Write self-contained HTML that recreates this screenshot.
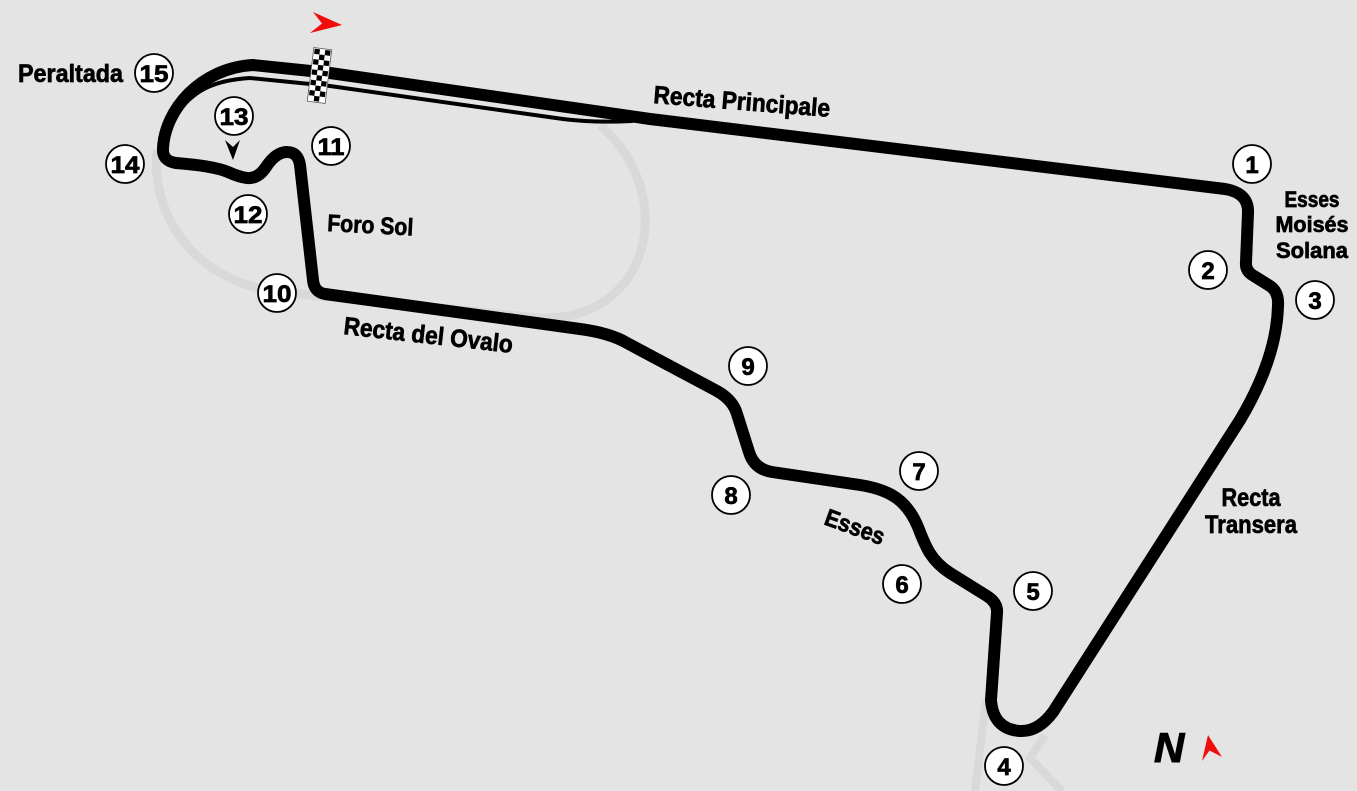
<!DOCTYPE html>
<html>
<head>
<meta charset="utf-8">
<style>
html,body{margin:0;padding:0;background:#e4e4e4;}
svg{display:block;}
text{font-family:"Liberation Sans Narrow","Liberation Sans",sans-serif;font-weight:bold;fill:#000;stroke:#000;stroke-width:0.7px;}
</style>
</head>
<body>
<svg width="1357" height="791" viewBox="0 0 1357 791" xmlns="http://www.w3.org/2000/svg">
  <rect x="0" y="0" width="1357" height="791" fill="#e4e4e4"/>

  <!-- faint oval (Foro Sol) -->
  <path d="M 157,150 C 150,230 210,285 280,292 L 540,318 C 650,322 680,195 600,125" fill="none" stroke="#d9d9d9" stroke-width="9"/>
  <!-- faint lines near turn 4 -->
  <path d="M 986,700 L 975,791" fill="none" stroke="#d9d9d9" stroke-width="8"/>
  <path d="M 1045,735 L 1030,758 L 1062,791" fill="none" stroke="#d9d9d9" stroke-width="8"/>

  <!-- pit / inner thin line -->
  <path d="M 175,117 C 192,90 215,80 250,78 L 330,86 L 563,119 Q 595,123 632,121" fill="none" stroke="#000" stroke-width="4" stroke-linecap="round"/>

  <!-- main track -->
  <path d="M 253,65 L 330,73 L 650,119 L 1225,189 Q 1249,193 1248,213 L 1246,262 Q 1245,271 1254,276 L 1270,286 Q 1279,292 1278,306 C 1277,345 1262,383 1240,420 L 1053,712 Q 1038,732 1020,731 Q 993,729 991,700 L 997,613 Q 998,603 987,596 L 950,573 C 930,560 925,545 918,527 C 908,503 893,490 860,485 L 772,472 Q 754,469 749,452 L 737,414 Q 733,400 717,391 L 627,343 Q 610,333 580,329 L 325,294 Q 314,292 313,280 L 300,165 Q 298,152 287,152 Q 276,152 266,167 Q 258,179 247,178 Q 239,177 228,172 Q 214,166 176,163 Q 162,161 163,148 C 165,110 200,68 253,65 Z" fill="none" stroke="#000" stroke-width="12" stroke-linejoin="round"/>

  <!-- checkered flag -->
  <g transform="translate(319.5,75.5) rotate(7)">
    <rect x="-9" y="-27" width="18" height="54" fill="#fff" stroke="#555" stroke-width="0.8"/>
    <g fill="#000">
      <rect x="-8" y="-26" width="5.33" height="5.2"/>
      <rect x="2.67" y="-26" width="5.33" height="5.2"/>
      <rect x="-2.67" y="-20.8" width="5.33" height="5.2"/>
      <rect x="-8" y="-15.6" width="5.33" height="5.2"/>
      <rect x="2.67" y="-15.6" width="5.33" height="5.2"/>
      <rect x="-2.67" y="-10.4" width="5.33" height="5.2"/>
      <rect x="-8" y="-5.2" width="5.33" height="5.2"/>
      <rect x="2.67" y="-5.2" width="5.33" height="5.2"/>
      <rect x="-2.67" y="0" width="5.33" height="5.2"/>
      <rect x="-8" y="5.2" width="5.33" height="5.2"/>
      <rect x="2.67" y="5.2" width="5.33" height="5.2"/>
      <rect x="-2.67" y="10.4" width="5.33" height="5.2"/>
      <rect x="-8" y="15.6" width="5.33" height="5.2"/>
      <rect x="2.67" y="15.6" width="5.33" height="5.2"/>
      <rect x="-2.67" y="20.8" width="5.33" height="5.2"/>
    </g>
  </g>

  <!-- red direction arrow -->
  <polygon points="313,12 342,25 310,33 322,23.5" fill="#f20d0d"/>

  <!-- turn 13 marker -->
  <polygon points="225,140 233,160 240,140 233,147" fill="#000"/>

  <!-- North -->
  <text x="1154" y="762" font-size="42" font-style="italic" style="font-family:'Liberation Sans',sans-serif;stroke-width:1px;">N</text>
  <polygon points="1208,735 1202,761 1209.5,750.5 1222,757" fill="#f20d0d"/>

  <!-- labels -->
  <text x="18" y="82" font-size="25" textLength="105" lengthAdjust="spacingAndGlyphs">Peraltada</text>
  <text x="653" y="103" font-size="25" textLength="177" lengthAdjust="spacingAndGlyphs" transform="rotate(4.5 653 103)">Recta Principale</text>
  <text x="327" y="231" font-size="24" textLength="86" lengthAdjust="spacingAndGlyphs" transform="rotate(3 327 231)">Foro Sol</text>
  <text x="343" y="334" font-size="25" textLength="170" lengthAdjust="spacingAndGlyphs" transform="rotate(6.4 343 334)">Recta del Ovalo</text>
  <text x="823" y="524" font-size="24" textLength="62" lengthAdjust="spacingAndGlyphs" transform="rotate(20 823 524)">Esses</text>
  <text x="1312" y="207" font-size="22" text-anchor="middle" textLength="55" lengthAdjust="spacingAndGlyphs">Esses</text>
  <text x="1312" y="232" font-size="22" text-anchor="middle" textLength="73" lengthAdjust="spacingAndGlyphs">Moisés</text>
  <text x="1312" y="258" font-size="22" text-anchor="middle" textLength="72" lengthAdjust="spacingAndGlyphs">Solana</text>
  <text x="1251" y="506" font-size="25" text-anchor="middle" textLength="59" lengthAdjust="spacingAndGlyphs">Recta</text>
  <text x="1251" y="533" font-size="25" text-anchor="middle" textLength="92" lengthAdjust="spacingAndGlyphs">Transera</text>

  <!-- turn numbers -->
  <g fill="#fff" stroke="#000" stroke-width="1.8">
    <circle cx="154" cy="73" r="19"/>
    <circle cx="234" cy="116" r="19"/>
    <circle cx="331" cy="146" r="19"/>
    <circle cx="125" cy="164" r="19"/>
    <circle cx="248" cy="214" r="19"/>
    <circle cx="277" cy="293" r="19"/>
    <circle cx="1252" cy="164" r="19"/>
    <circle cx="1208" cy="270" r="19"/>
    <circle cx="1315" cy="300" r="19"/>
    <circle cx="1004" cy="766" r="19"/>
    <circle cx="1033" cy="591" r="19"/>
    <circle cx="902" cy="584" r="19"/>
    <circle cx="919" cy="471" r="19"/>
    <circle cx="731" cy="495" r="19"/>
    <circle cx="748" cy="366" r="19"/>
  </g>
  <g font-size="24" text-anchor="middle">
    <text x="154" y="82" textLength="29" lengthAdjust="spacingAndGlyphs">15</text>
    <text x="234" y="125" textLength="29" lengthAdjust="spacingAndGlyphs">13</text>
    <text x="331" y="155" textLength="27" lengthAdjust="spacingAndGlyphs">11</text>
    <text x="125" y="173" textLength="29" lengthAdjust="spacingAndGlyphs">14</text>
    <text x="248" y="223" textLength="29" lengthAdjust="spacingAndGlyphs">12</text>
    <text x="277" y="302" textLength="29" lengthAdjust="spacingAndGlyphs">10</text>
    <text x="1252" y="173">1</text>
    <text x="1208" y="279">2</text>
    <text x="1315" y="309">3</text>
    <text x="1004" y="775">4</text>
    <text x="1033" y="600">5</text>
    <text x="902" y="593">6</text>
    <text x="919" y="480">7</text>
    <text x="731" y="504">8</text>
    <text x="748" y="375">9</text>
  </g>
</svg>
</body>
</html>
